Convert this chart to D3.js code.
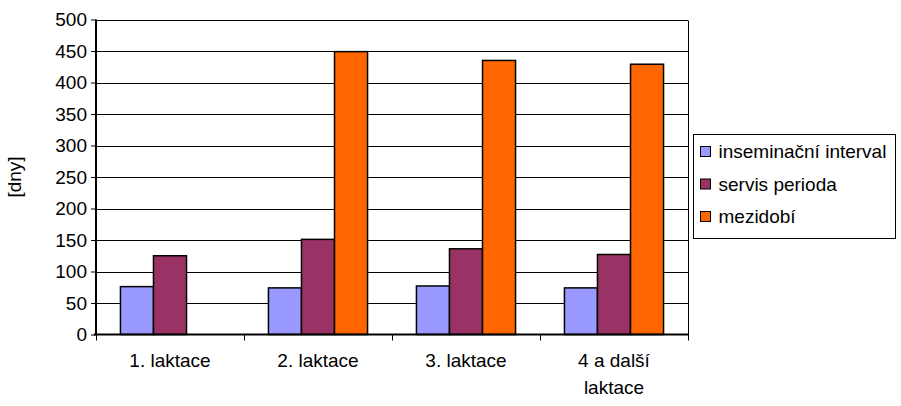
<!DOCTYPE html>
<html>
<head>
<meta charset="utf-8">
<script src="https://cdn.jsdelivr.net/npm/d3@7"></script>
<style>
  html, body { margin: 0; padding: 0; background: #fff; }
  svg { display: block; font-family: Arial, "Liberation Sans", sans-serif; }
</style>
</head>
<body>
<svg id="chart" width="901" height="406"></svg>
<script>
// Lactation categories and the three interval series (days)
const categories = ["1. laktace", "2. laktace", "3. laktace", "4 a další laktace"];
const seriesNames = ["inseminační interval", "servis perioda", "mezidobí"];
const inseminacniInterval = [76, 74, 77, 74];
const servisPerioda = [125, 151, 136, 127];
const mezidobi = [0, 449, 435, 429];
const yTicks = [0, 50, 100, 150, 200, 250, 300, 350, 400, 450, 500];
const colors = ["#9999FF", "#993366", "#FF6600"];

const seriesValues = [inseminacniInterval, servisPerioda, mezidobi];
const rows = categories.map((c, i) => ({
  cat: c,
  vals: seriesValues.map((s, k) => ({ key: seriesNames[k], value: s[i], k }))
}));

const FONT = 19;
const svg = d3.select("#chart");
const plot = { left: 96, right: 688, top: 19.5, bottom: 334.5 };

const x = d3.scaleBand().domain(categories).range([plot.left, plot.right]).paddingInner(0).paddingOuter(0);
const xInner = d3.scaleBand().domain(seriesNames).range([0, x.bandwidth()]).paddingInner(0).paddingOuter(0.74);
const y = d3.scaleLinear().domain([0, 500]).range([plot.bottom, plot.top]);

// horizontal gridlines
svg.append("g")
  .selectAll("line")
  .data(yTicks.filter(d => d > 0))
  .join("line")
  .attr("x1", plot.left).attr("x2", plot.right)
  .attr("y1", d => Math.round(y(d)) + 0.5).attr("y2", d => Math.round(y(d)) + 0.5)
  .attr("stroke", "#000").attr("stroke-width", 1);

// right edge of the plot area
svg.append("line")
  .attr("x1", plot.right + 0.5).attr("x2", plot.right + 0.5)
  .attr("y1", Math.round(y(500)) + 0.5).attr("y2", plot.bottom)
  .attr("stroke", "#000").attr("stroke-width", 1);

// bars
svg.append("g")
  .selectAll("g")
  .data(rows)
  .join("g")
  .attr("transform", d => `translate(${x(d.cat)},0)`)
  .selectAll("rect")
  .data(d => d.vals.filter(v => v.value > 0))
  .join("rect")
  .attr("x", d => xInner(d.key))
  .attr("width", xInner.bandwidth())
  .attr("y", d => y(d.value))
  .attr("height", d => y(0) - y(d.value))
  .attr("fill", d => colors[d.k])
  .attr("stroke", "#000")
  .attr("stroke-width", 1.5);

// y axis
const yAxis = svg.append("g")
  .attr("transform", `translate(${plot.left},0)`)
  .call(d3.axisLeft(y).tickValues(yTicks).tickSize(5).tickPadding(4).tickFormat(d3.format("d")));
yAxis.select(".domain").attr("stroke", "#000").attr("stroke-width", 2).attr("d", `M0,${y(500)}V${plot.bottom}`);
yAxis.selectAll(".tick line").attr("stroke", "#000");
yAxis.selectAll("text").attr("font-size", FONT).attr("fill", "#000")
  .attr("font-family", "Arial, 'Liberation Sans', sans-serif");

// x axis with ticks at category boundaries
const xAxisG = svg.append("g").attr("transform", `translate(0,${plot.bottom})`);
xAxisG.append("line")
  .attr("x1", plot.left - 2).attr("x2", plot.right + 1)
  .attr("y1", 0).attr("y2", 0)
  .attr("stroke", "#000").attr("stroke-width", 2);
const boundaries = categories.map(c => x(c)).concat([plot.right]);
xAxisG.selectAll("line.tick")
  .data(boundaries)
  .join("line")
  .attr("class", "tick")
  .attr("x1", d => d + 0.5).attr("x2", d => d + 0.5)
  .attr("y1", 0).attr("y2", 6)
  .attr("stroke", "#000").attr("stroke-width", 1);

// category labels (wrapped where the band is too narrow)
const labelLines = { "4 a další laktace": ["4 a další", "laktace"] };
const xl = xAxisG.selectAll("text.cat")
  .data(categories)
  .join("text")
  .attr("class", "cat")
  .attr("text-anchor", "middle")
  .attr("font-size", FONT)
  .attr("fill", "#000")
  .attr("x", d => x(d) + x.bandwidth() / 2);
xl.each(function (d) {
  const lines = labelLines[d] || [d];
  const t = d3.select(this);
  lines.forEach((ln, i) => {
    t.append("tspan")
      .attr("x", x(d) + x.bandwidth() / 2)
      .attr("y", 32 + i * 27)
      .text(ln);
  });
});

// y axis title
svg.append("text")
  .attr("transform", `translate(21,${(plot.top + plot.bottom) / 2}) rotate(-90)`)
  .attr("text-anchor", "middle")
  .attr("font-size", FONT)
  .attr("fill", "#000")
  .text("[dny]");

// legend
const legend = svg.append("g").attr("transform", "translate(693.5,134.5)");
legend.append("rect")
  .attr("width", 202).attr("height", 104)
  .attr("fill", "#fff").attr("stroke", "#000").attr("stroke-width", 1);
const item = legend.selectAll("g.item")
  .data(seriesNames)
  .join("g")
  .attr("class", "item")
  .attr("transform", (d, i) => `translate(0,${17 + i * 32.5})`);
item.append("rect")
  .attr("x", 7).attr("y", -5).attr("width", 10).attr("height", 10)
  .attr("fill", (d, i) => colors[i])
  .attr("stroke", "#000").attr("stroke-width", 1);
item.append("text")
  .attr("x", 25).attr("y", 6.5)
  .attr("font-size", FONT)
  .attr("fill", "#000")
  .text(d => d);
</script>
</body>
</html>
